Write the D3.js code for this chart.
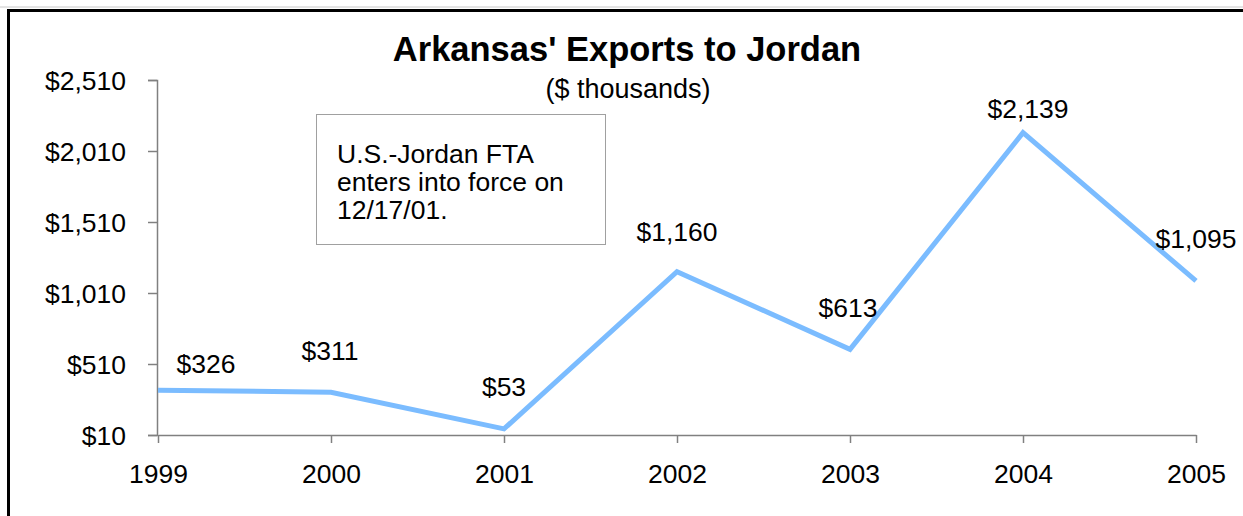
<!DOCTYPE html>
<html>
<head>
<meta charset="utf-8">
<script src="https://cdn.jsdelivr.net/npm/d3@7"></script>
<style>
  body { margin: 0; background: #fff; }
  svg text { font-family: "Liberation Sans", Arial, sans-serif; fill: #000; }
</style>
</head>
<body>
<div id="chart"></div>
<script>
const years = ["1999", "2000", "2001", "2002", "2003", "2004", "2005"];
const exports = [326, 311, 53, 1160, 613, 2139, 1095];
const yTicks = [10, 510, 1010, 1510, 2010, 2510];
const noteLines = ["U.S.-Jordan FTA", "enters into force on", "12/17/01."];

const WIDTH = 1243;
const HEIGHT = 516;
const LINE_COLOR = "#7bbcff";
const AXIS_COLOR = "#808080";
const FONT_SIZE = "26.5px";
// label nudges, roughly where the spreadsheet put them
const LABEL_DX = [48, -1, 0, 0, -2, 5, 0];
const LABEL_DY = [-17, -32, -33, -31, -32, -15, -33];

const svg = d3.select("#chart")
   .append("svg")
   .attr("width", WIDTH)
   .attr("height", HEIGHT);

// outer frame
svg.append("line")
   .attr("x1", 0).attr("x2", WIDTH).attr("y1", 7).attr("y2", 7)
   .attr("stroke", "#c8c8c8").attr("stroke-width", 1);
svg.append("path")
   .attr("d", `M8.5,${HEIGHT + 5}V10.5H${WIDTH + 5}`)
   .attr("fill", "none")
   .attr("stroke", "#000")
   .attr("stroke-width", 3);

const x = d3.scalePoint()
   .domain(years)
   .range([158, 1196]);

const y = d3.scaleLinear()
   .domain([10, 2510])
   .range([435, 80]);

// y axis
const yAxis = svg.append("g")
   .attr("transform", "translate(157,0)")
   .call(d3.axisLeft(y)
      .tickValues(yTicks)
      .tickSize(9)
      .tickPadding(22)
      .tickFormat(d => "$" + d3.format(",")(d)));
yAxis.select(".domain").attr("stroke", AXIS_COLOR).attr("stroke-width", 1.5);
yAxis.selectAll(".tick line").attr("stroke", AXIS_COLOR).attr("stroke-width", 1.5);
yAxis.selectAll(".tick text")
   .attr("font-size", FONT_SIZE)
   .attr("font-family", "Liberation Sans, Arial, sans-serif")
   .attr("fill", "#000")
   .attr("dy", "0.35em");

// x axis
const xAxis = svg.append("g")
   .attr("transform", "translate(0,435)")
   .call(d3.axisBottom(x)
      .tickSize(8)
      .tickSizeOuter(0)
      .tickPadding(21));
xAxis.select(".domain").attr("stroke", AXIS_COLOR).attr("stroke-width", 1.5);
xAxis.selectAll(".tick line").attr("stroke", AXIS_COLOR).attr("stroke-width", 1.5);
xAxis.selectAll(".tick text")
   .attr("font-size", FONT_SIZE)
   .attr("font-family", "Liberation Sans, Arial, sans-serif")
   .attr("fill", "#000");

// series line
const line = d3.line()
   .x((d, i) => x(years[i]))
   .y(d => y(d));

svg.append("path")
   .datum(exports)
   .attr("d", line)
   .attr("fill", "none")
   .attr("stroke", LINE_COLOR)
   .attr("stroke-width", 5)
   .attr("stroke-linejoin", "miter");

// data labels
svg.append("g")
   .selectAll("text")
   .data(exports)
   .join("text")
   .attr("x", (d, i) => x(years[i]) + LABEL_DX[i])
   .attr("y", (d, i) => y(d) + LABEL_DY[i])
   .attr("text-anchor", "middle")
   .attr("font-size", FONT_SIZE)
   .text(d => "$" + d3.format(",")(d));

// title
svg.append("text")
   .attr("x", 627)
   .attr("y", 61)
   .attr("text-anchor", "middle")
   .attr("font-size", "34.5px")
   .attr("font-weight", "bold")
   .text("Arkansas' Exports to Jordan");

svg.append("text")
   .attr("x", 628)
   .attr("y", 98)
   .attr("text-anchor", "middle")
   .attr("font-size", "27px")
   .text("($ thousands)");

// annotation box
const note = svg.append("g").attr("transform", "translate(316,114)");
note.append("rect")
   .attr("x", 0.5).attr("y", 0.5)
   .attr("width", 289).attr("height", 130)
   .attr("fill", "#fff")
   .attr("stroke", "#a0a0a0")
   .attr("stroke-width", 1);
note.append("text")
   .attr("font-size", FONT_SIZE)
   .selectAll("tspan")
   .data(noteLines)
   .join("tspan")
   .attr("x", 21)
   .attr("y", (d, i) => 49 + i * 28)
   .text(d => d);
</script>
</body>
</html>
